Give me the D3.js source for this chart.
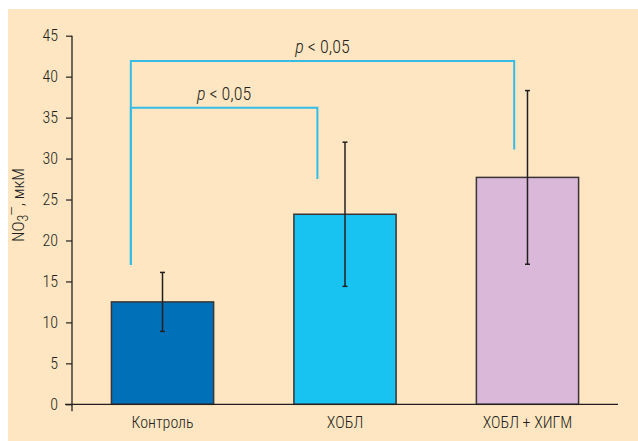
<!DOCTYPE html>
<html>
<head>
<meta charset="utf-8">
<script src="https://cdn.jsdelivr.net/npm/d3@7"></script>
<style>
  body { margin: 0; background: #fff; }
  svg text { font-family: "Roboto Condensed", "Liberation Sans Narrow", "Liberation Sans", Arial, sans-serif; font-weight: 300; fill: #231f20; }
</style>
</head>
<body>
<div id="chart"></div>
<script>
// data
const categories = ['Контроль', 'ХОБЛ', 'ХОБЛ + ХИГМ'];
const means = [12.5, 23.2, 27.7];
const errors = [3.6, 8.8, 10.6];
const barColors = ['#0070b8', '#19c3f1', '#d9b8d9'];
const yTicks = [0, 5, 10, 15, 20, 25, 30, 35, 40, 45];

// significance brackets: from / to category index, bracket height, leg bottoms
const sigPairs = [[0, 1], [0, 2]];
const sigLevels = [36.2, 41.9];
const sigLegEnds = [[17.0, 27.5], [17.0, 31.1]];
const sigLabel = 'p < 0,05';

const width = 638, height = 441;
const margin = {top: 36, right: 20, bottom: 37, left: 72};

const svg = d3.select('#chart').append('svg')
  .attr('width', width)
  .attr('height', height);

// beige panel
svg.append('rect')
  .attr('x', 8).attr('y', 9)
  .attr('width', width - 8).attr('height', height - 9)
  .attr('fill', '#fde6c1');

const x = d3.scaleBand()
  .domain(categories)
  .range([margin.left, 618])
  .paddingInner(0.44)
  .paddingOuter(0.216);

const y = d3.scaleLinear()
  .domain([0, 45])
  .range([404.3, 35.7]);

// bars
svg.selectAll('.bar')
  .data(categories)
  .enter().append('rect')
    .attr('class', 'bar')
    .attr('x', d => x(d))
    .attr('y', (d, i) => y(means[i]))
    .attr('width', x.bandwidth())
    .attr('height', (d, i) => y(0) - y(means[i]))
    .attr('fill', (d, i) => barColors[i])
    .attr('stroke', '#3a3536')
    .attr('stroke-width', 1.5);

// error bars
const eb = svg.selectAll('.err')
  .data(categories)
  .enter().append('g')
    .attr('class', 'err')
    .attr('stroke', '#231f20')
    .attr('stroke-width', 1.5);
eb.append('line')
  .attr('x1', d => x(d) + x.bandwidth() / 2)
  .attr('x2', d => x(d) + x.bandwidth() / 2)
  .attr('y1', (d, i) => y(means[i] + errors[i]))
  .attr('y2', (d, i) => y(means[i] - errors[i]));
eb.append('line')
  .attr('x1', d => x(d) + x.bandwidth() / 2 - 2.5)
  .attr('x2', d => x(d) + x.bandwidth() / 2 + 2.5)
  .attr('y1', (d, i) => y(means[i] + errors[i]))
  .attr('y2', (d, i) => y(means[i] + errors[i]));
eb.append('line')
  .attr('x1', d => x(d) + x.bandwidth() / 2 - 2.5)
  .attr('x2', d => x(d) + x.bandwidth() / 2 + 2.5)
  .attr('y1', (d, i) => y(means[i] - errors[i]))
  .attr('y2', (d, i) => y(means[i] - errors[i]));

// y axis
const yAxis = svg.append('g')
  .attr('transform', 'translate(' + margin.left + ',0)')
  .call(d3.axisLeft(y).tickValues(yTicks).tickSize(6).tickPadding(8));
yAxis.select('.domain').remove();
yAxis.selectAll('.tick line').attr('stroke', '#231f20').attr('stroke-width', 1.2);
yAxis.selectAll('.tick text').style('font-size', '16px').attr('fill', '#231f20');
svg.append('line')
  .attr('x1', margin.left).attr('x2', margin.left)
  .attr('y1', y(45)).attr('y2', y(0) + 7)
  .attr('stroke', '#231f20').attr('stroke-width', 1.3);

// x axis line + labels
svg.append('line')
  .attr('x1', 65).attr('x2', 618)
  .attr('y1', y(0)).attr('y2', y(0))
  .attr('stroke', '#231f20').attr('stroke-width', 1.3);
svg.selectAll('.xlab')
  .data(categories)
  .enter().append('text')
    .attr('class', 'xlab')
    .attr('x', d => x(d) + x.bandwidth() / 2)
    .attr('y', 428)
    .attr('text-anchor', 'middle')
    .style('font-size', '16px')
    .text(d => d);

// y axis title
const yt = svg.append('text')
  .attr('transform', 'translate(24,205) rotate(-90)')
  .attr('text-anchor', 'middle')
  .style('font-size', '17px');
yt.append('tspan').text('NO');
yt.append('tspan').attr('dy', 4).style('font-size', '14px').text('3');
yt.append('tspan').attr('dy', -11).attr('dx', -1).style('font-size', '14px').text('—');
yt.append('tspan').attr('dy', 7).text(', мкМ');

// significance brackets
const legX = [0.19, 0.23, 0.37];
sigPairs.forEach((p, k) => {
  const x1 = x(categories[p[0]]) + x.bandwidth() * legX[p[0]];
  const x2 = x(categories[p[1]]) + x.bandwidth() * legX[p[1]];
  svg.append('path')
    .attr('d', 'M' + x1 + ',' + y(sigLegEnds[k][0]) +
               'V' + y(sigLevels[k]) +
               'H' + x2 +
               'V' + y(sigLegEnds[k][1]))
    .attr('fill', 'none')
    .attr('stroke', '#35bde8')
    .attr('stroke-width', 2);
  const t = svg.append('text')
    .attr('x', (x1 + x2) / 2)
    .attr('y', y(sigLevels[k]) - 8)
    .attr('text-anchor', 'middle')
    .style('font-size', '18px');
  t.append('tspan').style('font-style', 'italic').text('p');
  t.append('tspan').text(sigLabel.slice(1));
});
</script>
</body>
</html>
